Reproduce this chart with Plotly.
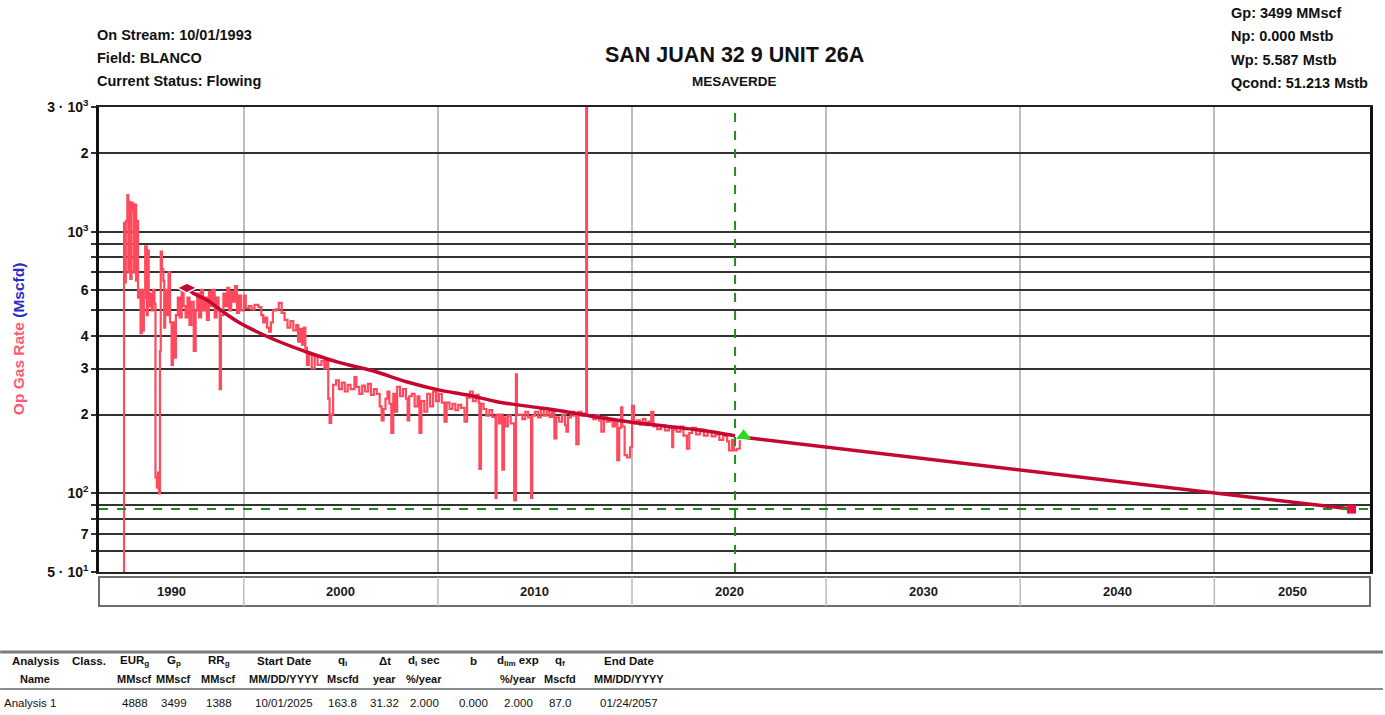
import math
import plotly.graph_objects as go

# ---------------- data ----------------
prod_history = [
    (1993.75, 40), (1993.83, 1080), (1993.88, 640), (1993.92, 1100), (1994.00, 1380), (1994.05, 700),
    (1994.10, 1300), (1994.15, 660), (1994.22, 1290), (1994.30, 1200), (1994.35, 700), (1994.40, 1270),
    (1994.45, 650), (1994.50, 1100), (1994.55, 560), (1994.62, 600), (1994.68, 410), (1994.75, 600),
    (1994.80, 420), (1994.85, 560), (1994.92, 880), (1995.00, 480), (1995.05, 850), (1995.10, 520),
    (1995.18, 580), (1995.25, 500), (1995.32, 600), (1995.40, 530), (1995.45, 115), (1995.52, 105),
    (1995.58, 120), (1995.63, 100), (1995.68, 350), (1995.72, 840), (1995.78, 720), (1995.85, 650),
    (1995.90, 430), (1995.95, 600), (1996.05, 480), (1996.12, 700), (1996.20, 450), (1996.28, 310),
    (1996.35, 450), (1996.42, 330), (1996.50, 480), (1996.60, 560), (1996.70, 470), (1996.80, 600),
    (1996.90, 520), (1997.00, 470), (1997.10, 560), (1997.20, 440), (1997.30, 540), (1997.42, 350),
    (1997.52, 500), (1997.60, 580), (1997.70, 470), (1997.80, 600), (1997.90, 500), (1998.00, 560),
    (1998.10, 460), (1998.20, 590), (1998.30, 520), (1998.40, 600), (1998.50, 470), (1998.60, 560),
    (1998.70, 500), (1998.76, 250), (1998.82, 480), (1998.95, 580), (1999.05, 520), (1999.15, 610),
    (1999.25, 500), (1999.35, 590), (1999.45, 540), (1999.55, 620), (1999.65, 490), (1999.75, 570),
    (1999.85, 500), (2000.00, 570), (2000.10, 510), (2000.25, 520), (2000.40, 505), (2000.55, 525),
    (2000.75, 515), (2000.90, 480), (2001.00, 450), (2001.10, 470), (2001.20, 430), (2001.30, 415),
    (2001.40, 450), (2001.50, 500), (2001.65, 505), (2001.80, 535), (2001.95, 490), (2002.10, 460),
    (2002.25, 430), (2002.40, 455), (2002.55, 420), (2002.70, 440), (2002.80, 380), (2002.90, 425),
    (2003.00, 370), (2003.10, 430), (2003.17, 360), (2003.25, 310), (2003.35, 340), (2003.50, 300),
    (2003.65, 335), (2003.80, 310), (2004.00, 320), (2004.15, 300), (2004.25, 320), (2004.35, 230),
    (2004.42, 186), (2004.50, 200), (2004.60, 260), (2004.75, 270), (2004.90, 250), (2005.05, 265),
    (2005.20, 245), (2005.35, 260), (2005.50, 250), (2005.70, 278), (2005.80, 255), (2005.95, 240),
    (2006.10, 258), (2006.25, 245), (2006.40, 262), (2006.55, 238), (2006.70, 250), (2006.85, 240),
    (2007.00, 215), (2007.10, 190), (2007.20, 210), (2007.30, 230), (2007.40, 245), (2007.50, 220),
    (2007.60, 170), (2007.70, 240), (2007.80, 205), (2007.90, 255), (2008.05, 235), (2008.20, 250),
    (2008.35, 230), (2008.44, 190), (2008.52, 235), (2008.65, 240), (2008.80, 215), (2008.95, 235),
    (2009.05, 170), (2009.15, 225), (2009.30, 205), (2009.45, 240), (2009.60, 215), (2009.75, 245),
    (2009.90, 225), (2010.05, 240), (2010.20, 222), (2010.34, 188), (2010.45, 222), (2010.60, 210),
    (2010.75, 220), (2010.90, 208), (2011.05, 218), (2011.20, 212), (2011.37, 188), (2011.50, 232),
    (2011.65, 245), (2011.80, 225), (2011.95, 238), (2012.10, 222), (2012.14, 124), (2012.22, 220),
    (2012.35, 210), (2012.50, 198), (2012.65, 208), (2012.80, 196), (2012.97, 96), (2013.02, 200),
    (2013.15, 185), (2013.25, 200), (2013.32, 123), (2013.40, 195), (2013.48, 180), (2013.60, 198),
    (2013.75, 185), (2013.93, 94), (2014.02, 285), (2014.07, 200), (2014.20, 200), (2014.35, 192),
    (2014.50, 205), (2014.65, 195), (2014.80, 96), (2014.86, 198), (2015.00, 205), (2015.15, 195),
    (2015.30, 210), (2015.45, 198), (2015.60, 205), (2015.75, 196), (2015.88, 205), (2016.00, 162),
    (2016.10, 195), (2016.25, 188), (2016.40, 200), (2016.55, 182), (2016.62, 172), (2016.70, 195),
    (2016.85, 205), (2017.00, 198), (2017.13, 154), (2017.25, 205), (2017.40, 198), (2017.55, 202),
    (2017.64, 5000), (2017.68, 198), (2017.85, 196), (2018.00, 192), (2018.15, 199), (2018.30, 190),
    (2018.42, 172), (2018.55, 195), (2018.70, 188), (2018.85, 190), (2019.00, 180), (2019.12, 188),
    (2019.24, 134), (2019.34, 178), (2019.44, 213), (2019.50, 180), (2019.62, 140), (2019.75, 137),
    (2019.90, 150), (2020.00, 216), (2020.10, 185), (2020.25, 190), (2020.40, 183), (2020.55, 192),
    (2020.70, 182), (2020.85, 188), (2020.99, 205), (2021.10, 180), (2021.30, 176), (2021.50, 182),
    (2021.70, 174), (2021.90, 178), (2022.07, 150), (2022.12, 175), (2022.30, 172), (2022.50, 180),
    (2022.65, 166), (2022.83, 148), (2022.95, 170), (2023.10, 178), (2023.30, 168), (2023.50, 175),
    (2023.70, 166), (2023.90, 172), (2024.10, 165), (2024.30, 168), (2024.50, 160), (2024.70, 166),
    (2024.90, 158), (2025.00, 146), (2025.15, 160), (2025.25, 146), (2025.40, 148), (2025.55, 158),
    (2025.62, 158),
]
prod_years = [p[0] for p in prod_history]
prod_rates = [p[1] for p in prod_history]

fit_years = [1997.07, 1997.38, 1998.10, 1999.00, 1999.80, 2001.50, 2003.24, 2004.94, 2006.64,
             2008.38, 2010.08, 2011.47, 2013.17, 2014.87, 2016.62, 2017.95, 2020.00, 2023.46, 2025.31]
fit_rates = [610, 583, 548, 490, 448, 389, 347, 316, 294, 267, 248, 238, 223, 214, 205, 197, 187, 174.5, 166]

forecast_years = [2025.75, 2057.07]
forecast_rates = [163.8, 87.0]
forecast_marker_rate = 166
q_limit = 87.0
cutoff_year = 2025.31

x_range = [1992.54, 2058.02]
y_min, y_max = 50, 3000
decade_starts = [1990, 2000, 2010, 2020, 2030, 2040, 2050]
decade_labels = ["1990", "2000", "2010", "2020", "2030", "2040", "2050"]
grid_years = [2000, 2010, 2020, 2030, 2040, 2050]

y_grid_vals = [50, 60, 70, 80, 90, 100, 200, 300, 400, 500, 600, 700, 800, 900, 1000, 2000, 3000]
y_grid_text = ["5 · 10<sup>1</sup>", "", "7", "", "", "10<sup>2</sup>", "2", "3", "4", "", "6", "", "", "",
               "10<sup>3</sup>", "2", "3 · 10<sup>3</sup>"]

left_info = ["On Stream: 10/01/1993", "Field: BLANCO", "Current Status: Flowing"]
right_info = ["Gp: 3499 MMscf", "Np: 0.000 Mstb", "Wp: 5.587 Mstb", "Qcond: 51.213 Mstb"]

table_head1 = ["Analysis", "Class.", "EUR<sub>g</sub>", "G<sub>p</sub>", "RR<sub>g</sub>", "Start Date",
               "q<sub>i</sub>", "Δt", "d<sub>i</sub> sec", "b", "d<sub>lim</sub> exp", "q<sub>f</sub>", "End Date"]
table_head2 = ["Name", "", "MMscf", "MMscf", "MMscf", "MM/DD/YYYY", "Mscfd", "year", "%/year", "",
               "%/year", "Mscfd", "MM/DD/YYYY"]
table_row = ["Analysis 1", "", "4888", "3499", "1388", "10/01/2025", "163.8", "31.32", "2.000", "0.000",
             "2.000", "87.0", "01/24/2057"]

# ---------------- layout helpers (pixel -> paper) ----------------
W, H = 1385, 715
L, R, T, B = 99, 13, 107, 143
PW, PH = W - L - R, H - T - B


def px(X):
    return (X - L) / PW


def py(Y):
    return (H - B - Y) / PH


FONT = "Liberation Sans, Arial, sans-serif"

DATA_RED = "#FF4A5E"
FIT_RED = "#C4082F"
GREEN = "#1E8C1E"

fig = go.Figure()

fig.add_trace(go.Scatter(x=prod_years, y=prod_rates, mode="lines", line=dict(color=DATA_RED, width=2.2, shape="hv"),
                         hoverinfo="skip"))
fig.add_trace(go.Scatter(x=fit_years, y=fit_rates, mode="lines", line=dict(color=FIT_RED, width=3.5, shape="spline"),
                         hoverinfo="skip"))
fig.add_trace(go.Scatter(x=forecast_years, y=forecast_rates, mode="lines", line=dict(color=FIT_RED, width=3.5),
                         hoverinfo="skip"))
fig.add_trace(go.Scatter(x=x_range, y=[q_limit, q_limit], mode="lines",
                         line=dict(color=GREEN, width=2, dash="dash"), hoverinfo="skip"))
fig.add_trace(go.Scatter(x=[cutoff_year, cutoff_year], y=[y_min, y_max], mode="lines",
                         line=dict(color=GREEN, width=2, dash="dash"), hoverinfo="skip"))
fig.add_trace(go.Scatter(x=[fit_years[0]], y=[fit_rates[0]], mode="markers",
                         marker=dict(symbol="diamond-wide", size=14, color=FIT_RED, line=dict(color="white", width=1.5))))
fig.add_trace(go.Scatter(x=[forecast_years[0]], y=[forecast_marker_rate], mode="markers",
                         marker=dict(symbol="triangle-up", size=13, color="#22DD22")))
fig.add_trace(go.Scatter(x=[forecast_years[-1]], y=[forecast_rates[-1]], mode="markers",
                         marker=dict(symbol="square", size=9, color="#E8103C")))

shapes = []
annotations = []

# date band below the plot
band_top, band_bot = py(577), py(606)
shapes.append(dict(type="rect", xref="paper", yref="paper", x0=0, x1=1, y0=band_bot, y1=band_top,
                   line=dict(color="#6E6E6E", width=2), fillcolor="white", layer="above"))
for gy in grid_years:
    shapes.append(dict(type="line", xref="x", yref="paper", x0=gy, x1=gy, y0=band_bot, y1=band_top,
                       line=dict(color="#BDBDBD", width=1.5)))
for ds, lab in zip(decade_starts, decade_labels):
    lo = max(ds, x_range[0])
    hi = min(ds + 10, x_range[1])
    annotations.append(dict(x=(lo + hi) / 2, y=(band_top + band_bot) / 2, xref="x", yref="paper",
                            xanchor="center", yanchor="middle",
                            text="<b>%s</b>" % lab, showarrow=False,
                            font=dict(family=FONT, size=13, color="#1a1a1a")))

# header texts
for i, t in enumerate(left_info):
    annotations.append(dict(x=px(95), y=py(35 + 23 * i), xref="paper", yref="paper", xanchor="left",
                            yanchor="middle", text="<b>%s</b>" % t, showarrow=False,
                            font=dict(family=FONT, size=14.5, color="#111")))
for i, t in enumerate(right_info):
    annotations.append(dict(x=px(1231), y=py(13 + 23.3 * i), xref="paper", yref="paper", xanchor="left",
                            yanchor="middle", text="<b>%s</b>" % t, showarrow=False,
                            font=dict(family=FONT, size=14.5, color="#111")))
annotations.append(dict(x=0.5, y=py(55), xref="paper", yref="paper", xanchor="center", yanchor="middle",
                        text="<b>SAN JUAN 32 9 UNIT 26A</b>", showarrow=False,
                        font=dict(family=FONT, size=21.5, color="#111")))
annotations.append(dict(x=0.5, y=py(81), xref="paper", yref="paper", xanchor="center", yanchor="middle",
                        text="<b>MESAVERDE</b>", showarrow=False,
                        font=dict(family=FONT, size=13.5, color="#111")))
annotations.append(dict(x=px(18), y=py(339), xref="paper", yref="paper", textangle=-90,
                        xanchor="center", yanchor="middle",
                        text="<b><span style='color:#FF5A70'>Op Gas Rate</span> "
                             "<span style='color:#2A2AC8'>(Mscfd)</span></b>",
                        showarrow=False, font=dict(family=FONT, size=15.5)))

# table
shapes.append(dict(type="line", xref="paper", yref="paper", x0=px(0), x1=px(W), y0=py(652), y1=py(652),
                   line=dict(color="#7A7A7A", width=3)))
shapes.append(dict(type="line", xref="paper", yref="paper", x0=px(0), x1=px(W), y0=py(689), y1=py(689),
                   line=dict(color="#8A8A8A", width=2)))
col_x = [35, 89, 135, 174, 219, 284, 343, 385, 425, 474, 519, 561, 630]
TFS = 11
for k, (cx, h1, h2, rv) in enumerate(zip(col_x, table_head1, table_head2, table_row)):
    annotations.append(dict(x=px(cx), y=py(661), xref="paper", yref="paper", xanchor="center", yanchor="middle",
                            text="<b>%s</b>" % h1, showarrow=False,
                            font=dict(family=FONT, size=TFS + 0.5, color="#111")))
    if h2:
        annotations.append(dict(x=px(cx), y=py(679), xref="paper", yref="paper", xanchor="center",
                                yanchor="middle", text="<b>%s</b>" % h2, showarrow=False,
                                font=dict(family=FONT, size=TFS, color="#111")))
    if rv:
        if k == 0:
            annotations.append(dict(x=px(2), y=py(703), xref="paper", yref="paper", xanchor="left",
                                    yanchor="middle", text=rv, showarrow=False,
                                    font=dict(family=FONT, size=TFS + 0.5, color="#111")))
        else:
            annotations.append(dict(x=px(cx), y=py(703), xref="paper", yref="paper", xanchor="center",
                                    yanchor="middle", text=rv, showarrow=False,
                                    font=dict(family=FONT, size=TFS + 0.5, color="#111")))

fig.update_layout(
    width=W, height=H,
    margin=dict(l=L, r=R, t=T, b=B, pad=0),
    plot_bgcolor="white", paper_bgcolor="white",
    showlegend=False,
    font=dict(family=FONT, color="black"),
    shapes=shapes, annotations=annotations,
    xaxis=dict(range=x_range, tickvals=grid_years, showticklabels=False, showgrid=True,
               gridcolor="#BDBDBD", gridwidth=1.5, zeroline=False, showline=True, linecolor="#222",
               linewidth=2, mirror=True, ticks=""),
    yaxis=dict(type="log", range=[math.log10(y_min), math.log10(y_max)], tickvals=y_grid_vals,
               ticktext=["<b>%s</b>" % t if t else "" for t in y_grid_text], showgrid=True,
               gridcolor="#333333", gridwidth=1.6, ticks="outside", ticklen=5, tickcolor="#333333",
               tickwidth=1.5, tickfont=dict(family=FONT, size=14, color="#111"), zeroline=False,
               showline=True, linecolor="#111", linewidth=2.5, mirror=True),
)

fig.write_html("out.html", post_script="document.body.style.margin='0';",
               config={"displayModeBar": False})
